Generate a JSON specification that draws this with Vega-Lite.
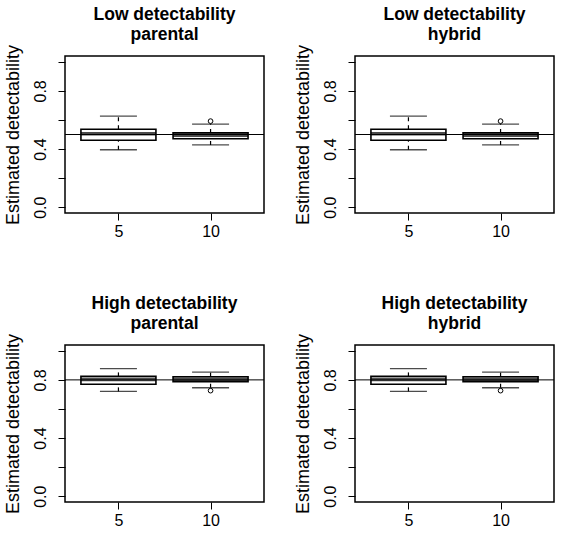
{
  "$schema": "https://vega.github.io/schema/vega-lite/v6.json",
  "padding": {"left": 3, "top": 5, "right": 5, "bottom": 5},
  "columns": 2,
  "spacing": {"row": 132, "column": 91},
  "bounds": "flush",
  "data": {
    "values": [
      {"panel": "low_parental", "kind": "box", "n": 5, "lower": 0.395, "q1": 0.46, "median": 0.505, "q3": 0.536, "upper": 0.627},
      {"panel": "low_parental", "kind": "box", "n": 10, "lower": 0.428, "q1": 0.471, "median": 0.494, "q3": 0.511, "upper": 0.571},
      {"panel": "low_parental", "kind": "outlier", "n": 10, "value": 0.592},
      {"panel": "low_parental", "kind": "ref", "value": 0.5},
      {"panel": "low_hybrid", "kind": "box", "n": 5, "lower": 0.395, "q1": 0.46, "median": 0.505, "q3": 0.536, "upper": 0.627},
      {"panel": "low_hybrid", "kind": "box", "n": 10, "lower": 0.428, "q1": 0.471, "median": 0.494, "q3": 0.511, "upper": 0.571},
      {"panel": "low_hybrid", "kind": "outlier", "n": 10, "value": 0.592},
      {"panel": "low_hybrid", "kind": "ref", "value": 0.5},
      {"panel": "high_parental", "kind": "box", "n": 5, "lower": 0.721, "q1": 0.77, "median": 0.802, "q3": 0.824, "upper": 0.877},
      {"panel": "high_parental", "kind": "box", "n": 10, "lower": 0.746, "q1": 0.788, "median": 0.805, "q3": 0.822, "upper": 0.854},
      {"panel": "high_parental", "kind": "outlier", "n": 10, "value": 0.726},
      {"panel": "high_parental", "kind": "ref", "value": 0.8},
      {"panel": "high_hybrid", "kind": "box", "n": 5, "lower": 0.721, "q1": 0.77, "median": 0.802, "q3": 0.824, "upper": 0.877},
      {"panel": "high_hybrid", "kind": "box", "n": 10, "lower": 0.746, "q1": 0.788, "median": 0.805, "q3": 0.822, "upper": 0.854},
      {"panel": "high_hybrid", "kind": "outlier", "n": 10, "value": 0.726},
      {"panel": "high_hybrid", "kind": "ref", "value": 0.8}
    ]
  },
  "concat": [
    {
      "title": {"text": ["Low detectability", "parental"], "offset": 1},
      "width": 199, "height": 157,
      "transform": [{"filter": "datum.panel === 'low_parental'"}],
      "layer": [
        {"transform": [{"filter": "datum.kind === 'box'"}], "mark": {"type": "rule", "color": "black", "strokeWidth": 1.2, "strokeDash": [4, 4]},
         "encoding": {"x": {"field": "n", "type": "ordinal", "title": null, "scale": {"type": "point", "padding": 0.58}}, "y": {"field": "q3", "type": "quantitative", "title": "Estimated detectability", "scale": {"domain": [-0.04, 1.04], "nice": false, "zero": false}}, "y2": {"field": "upper"}}},
        {"transform": [{"filter": "datum.kind === 'box'"}], "mark": {"type": "rule", "color": "black", "strokeWidth": 1.2, "strokeDash": [4, 4]},
         "encoding": {"x": {"field": "n", "type": "ordinal", "title": null}, "y": {"field": "lower", "type": "quantitative", "title": "Estimated detectability"}, "y2": {"field": "q1"}}},
        {"transform": [{"filter": "datum.kind === 'box'"}], "mark": {"type": "tick", "color": "black", "size": 37, "thickness": 1.3},
         "encoding": {"x": {"field": "n", "type": "ordinal", "title": null}, "y": {"field": "upper", "type": "quantitative", "title": "Estimated detectability"}}},
        {"transform": [{"filter": "datum.kind === 'box'"}], "mark": {"type": "tick", "color": "black", "size": 37, "thickness": 1.3},
         "encoding": {"x": {"field": "n", "type": "ordinal", "title": null}, "y": {"field": "lower", "type": "quantitative", "title": "Estimated detectability"}}},
        {"transform": [{"filter": "datum.kind === 'box'"}], "mark": {"type": "bar", "size": 75, "color": "white", "stroke": "black", "strokeWidth": 1.6},
         "encoding": {"x": {"field": "n", "type": "ordinal", "title": null}, "y": {"field": "q1", "type": "quantitative", "title": "Estimated detectability"}, "y2": {"field": "q3"}}},
        {"transform": [{"filter": "datum.kind === 'box'"}], "mark": {"type": "tick", "color": "black", "size": 75, "thickness": 3.5},
         "encoding": {"x": {"field": "n", "type": "ordinal", "title": null}, "y": {"field": "median", "type": "quantitative", "title": "Estimated detectability"}}},
        {"transform": [{"filter": "datum.kind === 'outlier'"}], "mark": {"type": "point", "shape": "circle", "filled": false, "color": "black", "size": 22, "strokeWidth": 1, "opacity": 1},
         "encoding": {"x": {"field": "n", "type": "ordinal", "title": null}, "y": {"field": "value", "type": "quantitative", "title": "Estimated detectability"}}},
        {"transform": [{"filter": "datum.kind === 'ref'"}], "mark": {"type": "rule", "color": "black", "strokeWidth": 1},
         "encoding": {"y": {"field": "value", "type": "quantitative", "title": "Estimated detectability"}}}
      ]
    },
    {
      "title": {"text": ["Low detectability", "hybrid"], "offset": 1},
      "width": 199, "height": 157,
      "transform": [{"filter": "datum.panel === 'low_hybrid'"}],
      "layer": [
        {"transform": [{"filter": "datum.kind === 'box'"}], "mark": {"type": "rule", "color": "black", "strokeWidth": 1.2, "strokeDash": [4, 4]},
         "encoding": {"x": {"field": "n", "type": "ordinal", "title": null, "scale": {"type": "point", "padding": 0.58}}, "y": {"field": "q3", "type": "quantitative", "title": "Estimated detectability", "scale": {"domain": [-0.04, 1.04], "nice": false, "zero": false}}, "y2": {"field": "upper"}}},
        {"transform": [{"filter": "datum.kind === 'box'"}], "mark": {"type": "rule", "color": "black", "strokeWidth": 1.2, "strokeDash": [4, 4]},
         "encoding": {"x": {"field": "n", "type": "ordinal", "title": null}, "y": {"field": "lower", "type": "quantitative", "title": "Estimated detectability"}, "y2": {"field": "q1"}}},
        {"transform": [{"filter": "datum.kind === 'box'"}], "mark": {"type": "tick", "color": "black", "size": 37, "thickness": 1.3},
         "encoding": {"x": {"field": "n", "type": "ordinal", "title": null}, "y": {"field": "upper", "type": "quantitative", "title": "Estimated detectability"}}},
        {"transform": [{"filter": "datum.kind === 'box'"}], "mark": {"type": "tick", "color": "black", "size": 37, "thickness": 1.3},
         "encoding": {"x": {"field": "n", "type": "ordinal", "title": null}, "y": {"field": "lower", "type": "quantitative", "title": "Estimated detectability"}}},
        {"transform": [{"filter": "datum.kind === 'box'"}], "mark": {"type": "bar", "size": 75, "color": "white", "stroke": "black", "strokeWidth": 1.6},
         "encoding": {"x": {"field": "n", "type": "ordinal", "title": null}, "y": {"field": "q1", "type": "quantitative", "title": "Estimated detectability"}, "y2": {"field": "q3"}}},
        {"transform": [{"filter": "datum.kind === 'box'"}], "mark": {"type": "tick", "color": "black", "size": 75, "thickness": 3.5},
         "encoding": {"x": {"field": "n", "type": "ordinal", "title": null}, "y": {"field": "median", "type": "quantitative", "title": "Estimated detectability"}}},
        {"transform": [{"filter": "datum.kind === 'outlier'"}], "mark": {"type": "point", "shape": "circle", "filled": false, "color": "black", "size": 22, "strokeWidth": 1, "opacity": 1},
         "encoding": {"x": {"field": "n", "type": "ordinal", "title": null}, "y": {"field": "value", "type": "quantitative", "title": "Estimated detectability"}}},
        {"transform": [{"filter": "datum.kind === 'ref'"}], "mark": {"type": "rule", "color": "black", "strokeWidth": 1},
         "encoding": {"y": {"field": "value", "type": "quantitative", "title": "Estimated detectability"}}}
      ]
    },
    {
      "title": {"text": ["High detectability", "parental"], "offset": 1},
      "width": 199, "height": 157,
      "transform": [{"filter": "datum.panel === 'high_parental'"}],
      "layer": [
        {"transform": [{"filter": "datum.kind === 'box'"}], "mark": {"type": "rule", "color": "black", "strokeWidth": 1.2, "strokeDash": [4, 4]},
         "encoding": {"x": {"field": "n", "type": "ordinal", "title": null, "scale": {"type": "point", "padding": 0.58}}, "y": {"field": "q3", "type": "quantitative", "title": "Estimated detectability", "scale": {"domain": [-0.04, 1.04], "nice": false, "zero": false}}, "y2": {"field": "upper"}}},
        {"transform": [{"filter": "datum.kind === 'box'"}], "mark": {"type": "rule", "color": "black", "strokeWidth": 1.2, "strokeDash": [4, 4]},
         "encoding": {"x": {"field": "n", "type": "ordinal", "title": null}, "y": {"field": "lower", "type": "quantitative", "title": "Estimated detectability"}, "y2": {"field": "q1"}}},
        {"transform": [{"filter": "datum.kind === 'box'"}], "mark": {"type": "tick", "color": "black", "size": 37, "thickness": 1.3},
         "encoding": {"x": {"field": "n", "type": "ordinal", "title": null}, "y": {"field": "upper", "type": "quantitative", "title": "Estimated detectability"}}},
        {"transform": [{"filter": "datum.kind === 'box'"}], "mark": {"type": "tick", "color": "black", "size": 37, "thickness": 1.3},
         "encoding": {"x": {"field": "n", "type": "ordinal", "title": null}, "y": {"field": "lower", "type": "quantitative", "title": "Estimated detectability"}}},
        {"transform": [{"filter": "datum.kind === 'box'"}], "mark": {"type": "bar", "size": 75, "color": "white", "stroke": "black", "strokeWidth": 1.6},
         "encoding": {"x": {"field": "n", "type": "ordinal", "title": null}, "y": {"field": "q1", "type": "quantitative", "title": "Estimated detectability"}, "y2": {"field": "q3"}}},
        {"transform": [{"filter": "datum.kind === 'box'"}], "mark": {"type": "tick", "color": "black", "size": 75, "thickness": 3.5},
         "encoding": {"x": {"field": "n", "type": "ordinal", "title": null}, "y": {"field": "median", "type": "quantitative", "title": "Estimated detectability"}}},
        {"transform": [{"filter": "datum.kind === 'outlier'"}], "mark": {"type": "point", "shape": "circle", "filled": false, "color": "black", "size": 22, "strokeWidth": 1, "opacity": 1},
         "encoding": {"x": {"field": "n", "type": "ordinal", "title": null}, "y": {"field": "value", "type": "quantitative", "title": "Estimated detectability"}}},
        {"transform": [{"filter": "datum.kind === 'ref'"}], "mark": {"type": "rule", "color": "black", "strokeWidth": 1},
         "encoding": {"y": {"field": "value", "type": "quantitative", "title": "Estimated detectability"}}}
      ]
    },
    {
      "title": {"text": ["High detectability", "hybrid"], "offset": 1},
      "width": 199, "height": 157,
      "transform": [{"filter": "datum.panel === 'high_hybrid'"}],
      "layer": [
        {"transform": [{"filter": "datum.kind === 'box'"}], "mark": {"type": "rule", "color": "black", "strokeWidth": 1.2, "strokeDash": [4, 4]},
         "encoding": {"x": {"field": "n", "type": "ordinal", "title": null, "scale": {"type": "point", "padding": 0.58}}, "y": {"field": "q3", "type": "quantitative", "title": "Estimated detectability", "scale": {"domain": [-0.04, 1.04], "nice": false, "zero": false}}, "y2": {"field": "upper"}}},
        {"transform": [{"filter": "datum.kind === 'box'"}], "mark": {"type": "rule", "color": "black", "strokeWidth": 1.2, "strokeDash": [4, 4]},
         "encoding": {"x": {"field": "n", "type": "ordinal", "title": null}, "y": {"field": "lower", "type": "quantitative", "title": "Estimated detectability"}, "y2": {"field": "q1"}}},
        {"transform": [{"filter": "datum.kind === 'box'"}], "mark": {"type": "tick", "color": "black", "size": 37, "thickness": 1.3},
         "encoding": {"x": {"field": "n", "type": "ordinal", "title": null}, "y": {"field": "upper", "type": "quantitative", "title": "Estimated detectability"}}},
        {"transform": [{"filter": "datum.kind === 'box'"}], "mark": {"type": "tick", "color": "black", "size": 37, "thickness": 1.3},
         "encoding": {"x": {"field": "n", "type": "ordinal", "title": null}, "y": {"field": "lower", "type": "quantitative", "title": "Estimated detectability"}}},
        {"transform": [{"filter": "datum.kind === 'box'"}], "mark": {"type": "bar", "size": 75, "color": "white", "stroke": "black", "strokeWidth": 1.6},
         "encoding": {"x": {"field": "n", "type": "ordinal", "title": null}, "y": {"field": "q1", "type": "quantitative", "title": "Estimated detectability"}, "y2": {"field": "q3"}}},
        {"transform": [{"filter": "datum.kind === 'box'"}], "mark": {"type": "tick", "color": "black", "size": 75, "thickness": 3.5},
         "encoding": {"x": {"field": "n", "type": "ordinal", "title": null}, "y": {"field": "median", "type": "quantitative", "title": "Estimated detectability"}}},
        {"transform": [{"filter": "datum.kind === 'outlier'"}], "mark": {"type": "point", "shape": "circle", "filled": false, "color": "black", "size": 22, "strokeWidth": 1, "opacity": 1},
         "encoding": {"x": {"field": "n", "type": "ordinal", "title": null}, "y": {"field": "value", "type": "quantitative", "title": "Estimated detectability"}}},
        {"transform": [{"filter": "datum.kind === 'ref'"}], "mark": {"type": "rule", "color": "black", "strokeWidth": 1},
         "encoding": {"y": {"field": "value", "type": "quantitative", "title": "Estimated detectability"}}}
      ]
    }
  ],
  "config": {
    "font": "Liberation Sans",
    "view": {"stroke": "black", "strokeWidth": 1.5},
    "axis": {
      "grid": false, "domain": false,
      "tickColor": "black", "tickWidth": 1, "tickSize": 7,
      "labelColor": "black", "labelFont": "Liberation Sans", "labelFontSize": 16,
      "titleColor": "black", "titleFont": "Liberation Sans", "titleFontSize": 18, "titleFontWeight": "normal",
      "labelFlush": false, "labelOverlap": false
    },
    "axisX": {"labelAngle": 0, "labelPadding": 3},
    "axisY": {
      "values": [0, 0.2, 0.4, 0.6, 0.8, 1],
      "format": ".1f",
      "labelExpr": "indexof(['0.0', '0.4', '0.8'], datum.label) >= 0 ? datum.label : ''",
      "labelAngle": -90, "labelAlign": "center", "labelBaseline": "bottom", "labelPadding": 10,
      "titlePadding": 10
    },
    "title": {"font": "Liberation Sans", "fontSize": 17.5, "fontWeight": "bold", "color": "black", "anchor": "middle", "frame": "group", "lineHeight": 20}
  }
}
